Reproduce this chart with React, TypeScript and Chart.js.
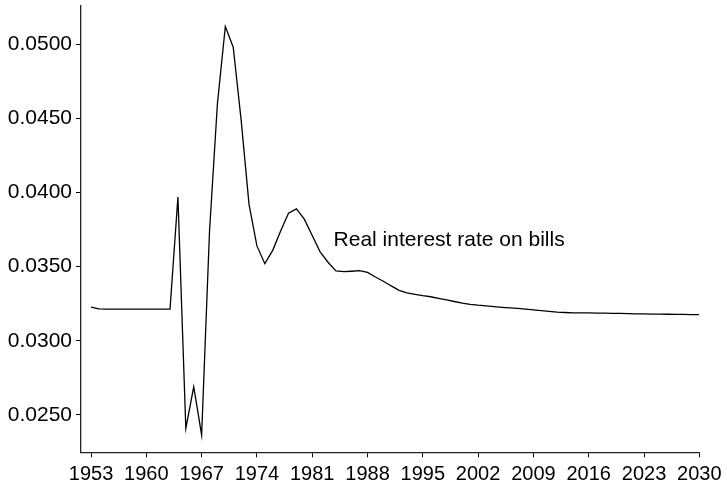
import { useEffect, useRef } from "react";
import { Chart, registerables } from "chart.js";

Chart.register(...registerables);

const years: number[] = [
  1953, 1954, 1955, 1956, 1957, 1958, 1959, 1960, 1961, 1962, 1963, 1964, 1965,
  1966, 1967, 1968, 1969, 1970, 1971, 1972, 1973, 1974, 1975, 1976, 1977, 1978,
  1979, 1980, 1981, 1982, 1983, 1984, 1985, 1986, 1987, 1988, 1989, 1990, 1991,
  1992, 1993, 1994, 1995, 1996, 1997, 1998, 1999, 2000, 2001, 2002, 2003, 2004,
  2005, 2006, 2007, 2008, 2009, 2010, 2011, 2012, 2013, 2014, 2015, 2016, 2017,
  2018, 2019, 2020, 2021, 2022, 2023, 2024, 2025, 2026, 2027, 2028, 2029, 2030,
];

const realRate: number[] = [
  0.03227, 0.03215, 0.03213, 0.03213, 0.03213, 0.03213, 0.03213, 0.03213,
  0.03213, 0.03214, 0.03214, 0.0397, 0.0241, 0.0269, 0.02365, 0.0374, 0.046,
  0.0512, 0.0498, 0.0449, 0.0392, 0.0364, 0.0352, 0.0361, 0.0374, 0.0386,
  0.0389, 0.0382, 0.0371, 0.036, 0.0353, 0.03471, 0.03466, 0.03469, 0.03473,
  0.03461, 0.0343, 0.03402, 0.0337, 0.0334, 0.03323, 0.03313, 0.03304, 0.03297,
  0.03286, 0.03276, 0.03265, 0.03254, 0.03246, 0.0324, 0.03236, 0.03231,
  0.03226, 0.03222, 0.03218, 0.03213, 0.03208, 0.03203, 0.03199, 0.03194,
  0.03191, 0.03189, 0.03189, 0.03188, 0.03187, 0.03187, 0.03185, 0.03185,
  0.03183, 0.03182, 0.03181, 0.0318, 0.0318, 0.03179, 0.03178, 0.03178,
  0.03177, 0.03176,
];

const xTicks: number[] = [1953, 1960, 1967, 1974, 1981, 1988, 1995, 2002, 2009, 2016, 2023, 2030];
const yTicks: number[] = [0.025, 0.03, 0.035, 0.04, 0.045, 0.05];

const seriesLabel = "Real interest rate on bills";
const labelYear = 1983.7;
const labelValue = 0.0364;

const FONT = "'Liberation Sans', Arial, Helvetica, sans-serif";

const labelPlugin = {
  id: "seriesLabel",
  afterDatasetsDraw(chart: any) {
    const { ctx, scales } = chart;
    const x = scales.x.getPixelForValue(labelYear);
    const y = scales.y.getPixelForValue(labelValue);
    ctx.save();
    ctx.font = `21px ${FONT}`;
    ctx.fillStyle = "#000";
    ctx.textAlign = "left";
    ctx.textBaseline = "alphabetic";
    ctx.fillText(seriesLabel, x, y);
    ctx.restore();
  },
};

export default function App() {
  const ref = useRef<HTMLCanvasElement | null>(null);

  useEffect(() => {
    if (!ref.current) return;
    const chart = new Chart(ref.current, {
      type: "line",
      data: {
        datasets: [
          {
            label: seriesLabel,
            data: years.map((yr, i) => ({ x: yr, y: realRate[i] })),
            borderColor: "#000",
            borderWidth: 1.3,
            pointRadius: 0,
            tension: 0,
            fill: false,
          },
        ],
      },
      options: {
        responsive: false,
        animation: false,
        layout: { padding: { top: 6, right: 27.7, left: 0, bottom: 0 } },
        plugins: { legend: { display: false }, tooltip: { enabled: false } },
        scales: {
          x: {
            type: "linear",
            min: 1951.73,
            max: 2030,
            afterBuildTicks: (s: any) => {
              s.ticks = xTicks.map((v) => ({ value: v }));
            },
            afterFit: (s: any) => {
              s.height = 34.7;
              s.paddingLeft = 0;
              s.paddingRight = 0;
            },
            ticks: {
              color: "#000",
              font: { family: FONT, size: 20 },
              padding: 5,
              maxRotation: 0,
              autoSkip: false,
              callback: (v: any) => String(v),
            },
            grid: { drawOnChartArea: false, drawTicks: true, tickLength: 5, color: "#000" },
            border: { color: "#222", width: 1.3 },
          },
          y: {
            type: "linear",
            min: 0.02248,
            max: 0.05258,
            afterBuildTicks: (s: any) => {
              s.ticks = yTicks.map((v) => ({ value: v }));
            },
            afterFit: (s: any) => {
              s.width = 81;
              s.paddingTop = 0;
              s.paddingBottom = 0;
            },
            ticks: {
              color: "#000",
              font: { family: FONT, size: 21 },
              padding: 4,
              autoSkip: false,
              callback: (v: any) => Number(v).toFixed(4),
            },
            grid: { drawOnChartArea: false, drawTicks: true, tickLength: 5, color: "#000" },
            border: { color: "#222", width: 1.3 },
          },
        },
      },
      plugins: [labelPlugin],
    });
    return () => chart.destroy();
  }, []);

  return (
    <div style={{ position: "absolute", left: 0, top: 0, width: 727, height: 487, background: "#fff" }}>
      <canvas ref={ref} width={727} height={487} />
    </div>
  );
}
